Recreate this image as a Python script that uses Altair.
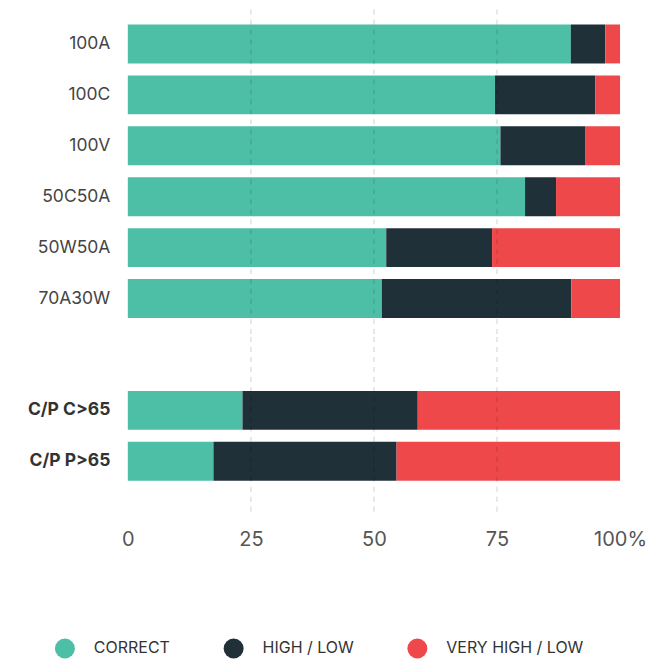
import altair as alt
import pandas as pd

top_cats = ["100A", "100C", "100V", "50C50A", "50W50A", "70A30W"]
bottom_cats = ["C/P C>65", "C/P P>65"]
series = ["CORRECT", "HIGH / LOW", "VERY HIGH / LOW"]
colors = ["#4dbfa6", "#1f3039", "#ef484b"]

correct = [90.0, 74.6, 75.7, 80.7, 52.5, 51.6, 23.3, 17.4]
high_low = [7.0, 20.4, 17.3, 6.3, 21.5, 38.5, 35.6, 37.2]
very_high_low = [3.0, 5.0, 7.0, 13.0, 26.0, 9.9, 41.1, 45.4]

grid_values = [25, 50, 75]
tick_values = [0, 25, 50, 75, 100]

cats = top_cats + bottom_cats
rows = []
for i, c in enumerate(cats):
    for j, (s, vals) in enumerate(zip(series, [correct, high_low, very_high_low])):
        rows.append({"cat": c, "series": s, "order": j, "value": vals[i],
                     "group": "top" if c in top_cats else "bottom"})
df = pd.DataFrame(rows)
grid_df = pd.DataFrame({"v": grid_values})

FONT = "Inter"

color_scale = alt.Scale(domain=series, range=colors)
x_scale = alt.Scale(domain=[0, 100], nice=False)

legend = alt.Legend(title=None, orient="none", direction="horizontal",
                    legendX=-73, legendY=630, symbolType="circle",
                    symbolSize=400, symbolStrokeWidth=0,
                    labelFontSize=16, labelColor="#333", labelFont=FONT,
                    labelOffset=19, columnPadding=53)


def panel(group, cats_list, height, pad_outer, align, bold, show_x):
    data = df[df.group == group]
    if show_x:
        x_axis = alt.Axis(values=tick_values, grid=False, domain=False, ticks=False,
                          labelFontSize=20, labelColor="#555", labelFont=FONT,
                          labelPadding=14, labelFlush=False, title=None,
                          labelExpr="datum.value == 100 ? '100%' : datum.label")
    else:
        x_axis = None
    bars = alt.Chart(data).mark_bar().encode(
        x=alt.X("value:Q", stack="zero", scale=x_scale, axis=x_axis),
        y=alt.Y("cat:N", sort=cats_list,
                scale=alt.Scale(paddingInner=12 / 51, paddingOuter=pad_outer, align=align),
                axis=alt.Axis(title=None, domain=False, ticks=False, labelPadding=18,
                              labelFontSize=17.5, labelColor="#444" if not bold else "#333",
                              labelFont=FONT, labelFontWeight="bold" if bold else "normal",
                              minExtent=115, maxExtent=115)),
        color=alt.Color("series:N", scale=color_scale, legend=legend),
        order=alt.Order("order:Q"),
    )
    rules = alt.Chart(grid_df).mark_rule(color="#000", opacity=0.12, strokeDash=[5, 5],
                                         strokeWidth=1.5).encode(
        x=alt.X("v:Q", scale=x_scale)
    )
    return alt.layer(bars, rules).properties(width=493, height=height)


top = panel("top", top_cats, 326, 16 / 51, 15 / 32, False, False)
bottom = panel("bottom", bottom_cats, 179, 89 / 2 / 51, 54 / 89, True, True)

chart = alt.vconcat(top, bottom, spacing=0).configure_view(stroke=None).properties(
    padding={"left": 5, "top": 0, "right": 0, "bottom": 0}
)

chart.save("out.html", embed_options={"renderer": "svg", "actions": False})
